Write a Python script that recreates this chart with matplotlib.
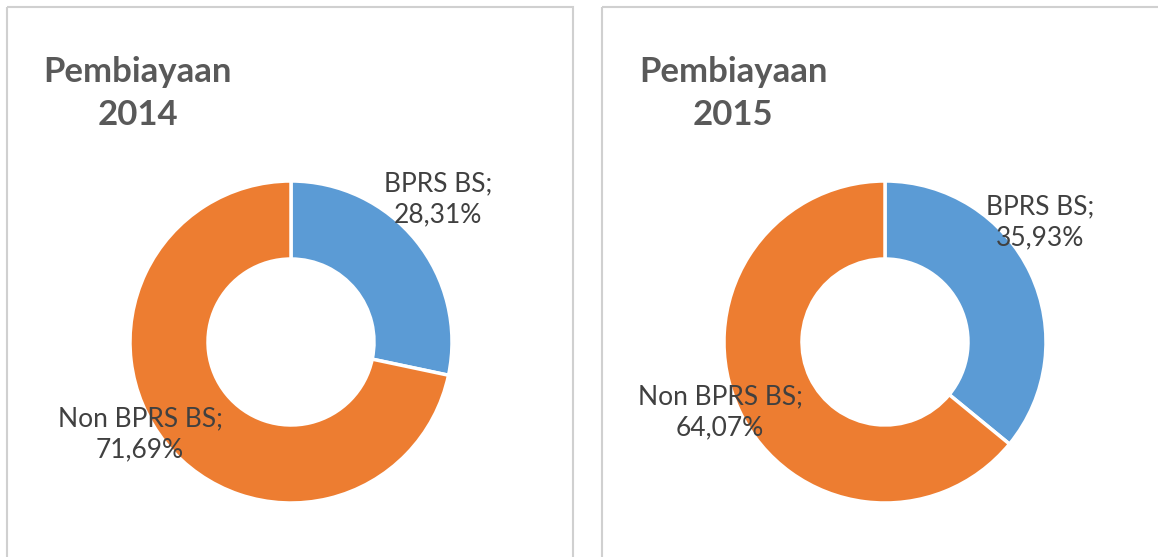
import matplotlib.pyplot as plt
from matplotlib.patches import Rectangle

labels = ["BPRS BS", "Non BPRS BS"]
share_2014 = [28.31, 71.69]
share_2015 = [35.93, 64.07]
years = ["2014", "2015"]

colors = ["#5B9BD5", "#ED7D31"]
grey = "#595959"
plt.rcParams['font.family'] = ['Lato', 'DejaVu Sans']

fig = plt.figure(figsize=(11.58, 5.57), dpi=100)
ax = fig.add_axes([0, 0, 1, 1])

# panel frames
ax.add_patch(Rectangle((7, 7), 566, 560, fill=False, ec="#d0d0d0", lw=1.5))
ax.add_patch(Rectangle((602, 7), 570, 560, fill=False, ec="#d0d0d0", lw=1.5))


def fmt(v):
    return "{:.2f}%".format(v).replace(".", ",")


panels = [
    dict(vals=share_2014, year=years[0], cx=291, tx=138,
         lab_pos=[(438, 199), (140, 434)]),
    dict(vals=share_2015, year=years[1], cx=885, tx=733,
         lab_pos=[(1040, 222), (720, 412)]),
]

for p in panels:
    # y axis is flipped: start at -90 (top on screen), counterclock -> clockwise on screen
    ax.pie(p["vals"], colors=colors, center=(p["cx"], 342), radius=161,
           startangle=-90, counterclock=True,
           wedgeprops=dict(width=78, edgecolor="white", linewidth=2.5),
           frame=True)
    ax.text(p["tx"], 72, "Pembiayaan", ha="center", va="center",
            fontsize=25, fontweight="bold", color=grey)
    ax.text(p["tx"], 115, p["year"], ha="center", va="center",
            fontsize=25, fontweight="bold", color=grey)
    for name, v, (x, y) in zip(labels, p["vals"], p["lab_pos"]):
        ax.text(x, y, name + ";\n" + fmt(v), ha="center", va="center",
                fontsize=19, color="#404040", linespacing=1.3)

ax.set_xlim(0, 1158)
ax.set_ylim(557, 0)
ax.set_aspect("auto")
ax.axis('off')

fig.savefig("out.png", dpi=100)
